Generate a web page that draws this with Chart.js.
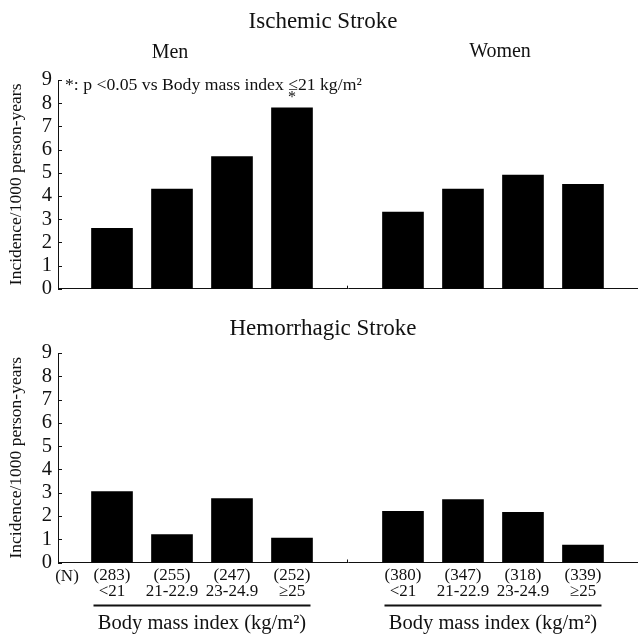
<!DOCTYPE html>
<html>
<head>
<meta charset="utf-8">
<script src="https://cdn.jsdelivr.net/npm/chart.js@4.4.0/dist/chart.umd.min.js"></script>
<style>
  body { margin: 0; background: #fff; }
  #wrap { position: relative; width: 638px; height: 637px; }
  canvas { position: absolute; left: 0; }
</style>
</head>
<body>
<div id="wrap">
  <canvas id="topChart" width="638" height="307" style="top:0"></canvas>
  <canvas id="bottomChart" width="638" height="332" style="top:305px"></canvas>
</div>
<script>
// categories
const bmiLabels = ['<21', '21-22.9', '23-24.9', '\u226525'];
const menN = [283, 255, 247, 252];
const womenN = [380, 347, 318, 339];
const yTicks = [0, 1, 2, 3, 4, 5, 6, 7, 8, 9];

// incidence / 1000 person-years
const ischemicMen = [2.6, 4.3, 5.7, 7.8];
const ischemicWomen = [3.3, 4.3, 4.9, 4.5];
const hemorrhagicMen = [3.05, 1.2, 2.75, 1.05];
const hemorrhagicWomen = [2.2, 2.7, 2.15, 0.75];
const ischemicMenSig = [false, false, false, true];

const FONT = '"Liberation Serif", "Times New Roman", serif';
const WOMEN_SHIFT = 4.85; // gap between the two sex groups, in bar slots

const menX = bmiLabels.map((_, i) => i);
const womenX = bmiLabels.map((_, i) => i + WOMEN_SHIFT);
const allX = menX.concat(womenX);

function toPoints(men, women) {
    return men.map((v, i) => ({x: menX[i], y: v}))
        .concat(women.map((v, i) => ({x: womenX[i], y: v})));
}

function text(ctx, s, x, y, size, align) {
    ctx.save();
    ctx.font = size + 'px ' + FONT;
    ctx.fillStyle = '#111';
    ctx.textAlign = align || 'center';
    ctx.textBaseline = 'middle';
    ctx.fillText(s, x, y);
    ctx.restore();
}

// inward y ticks, the little divider mark and all the free text
const decorPlugin = {
    id: 'decor',
    afterDraw(chart) {
        const ctx = chart.ctx;
        const xs = chart.scales.x, ys = chart.scales.y;
        const left = chart.chartArea.left, base = ys.getPixelForValue(0);
        ctx.save();
        ctx.strokeStyle = '#111';
        ctx.lineWidth = 1;
        ctx.beginPath();
        yTicks.forEach(t => {
            const p = Math.round(ys.getPixelForValue(t)) + 0.5;
            ctx.moveTo(left, p);
            ctx.lineTo(left + 4, p);
        });
        const mid = Math.round(xs.getPixelForValue((menX[3] + womenX[0]) / 2)) + 0.5;
        ctx.moveTo(mid, base);
        ctx.lineTo(mid, base - 3);
        ctx.stroke();
        ctx.restore();

        const o = chart.options.plugins.decor;
        text(ctx, o.title, 323, o.titleY, 23);

        if (o.top) {
            text(ctx, 'Men', 170, 53, 20);
            text(ctx, 'Women', 500, 52, 20);
            text(ctx, '*: p <0.05 vs Body mass index \u226421 kg/m\u00b2', 65, 85, 17.7, 'left');
            ischemicMenSig.forEach((s, i) => {
                if (!s) return;
                text(ctx, '*', xs.getPixelForValue(menX[i]), ys.getPixelForValue(ischemicMen[i]) - 10, 16);
            });
        } else {
            text(ctx, '(N)', 67, 271.5, 17);
            [menX, womenX].forEach(g => {
                const a = xs.getPixelForValue(g[0]) - 18.5;
                const b = xs.getPixelForValue(g[g.length - 1]) + 18.5;
                ctx.save();
                ctx.fillStyle = '#111';
                ctx.fillRect(a, 299.5, b - a, 2);
                ctx.restore();
                text(ctx, 'Body mass index (kg/m\u00b2)', (a + b) / 2, 318.5, 20.5);
            });
        }
    }
};

function makeChart(id, men, women, isTop) {
    const ctx = document.getElementById(id).getContext('2d');
    return new Chart(ctx, {
        type: 'bar',
        data: {
            datasets: [{
                data: toPoints(men, women),
                backgroundColor: '#000',
                borderColor: '#000',
                barThickness: 41
            }]
        },
        options: {
            responsive: false,
            animation: false,
            layout: {padding: isTop ? {top: 80, bottom: 0, left: 0, right: 0} : {top: 48, bottom: 0, left: 0, right: 0}},
            plugins: {
                legend: {display: false},
                tooltip: {enabled: false},
                decor: {title: isTop ? 'Ischemic Stroke' : 'Hemorrhagic Stroke', titleY: isTop ? 22 : 24, top: isTop}
            },
            scales: {
                x: {
                    type: 'linear',
                    offset: false,
                    min: -0.9,
                    max: 8.767,
                    grid: {display: false, drawTicks: false},
                    border: {display: true, color: '#111', width: 1},
                    afterBuildTicks: s => { s.ticks = allX.map(v => ({value: v})); },
                    afterFit: s => { s.height = isTop ? 13 : 74.5; },
                    ticks: {
                        display: !isTop,
                        autoSkip: false,
                        maxRotation: 0,
                        padding: 5,
                        color: '#111',
                        font: {family: FONT, size: 17, lineHeight: 0.95},
                        callback: (v, i) => {
                            const n = i < 4 ? menN[i] : womenN[i - 4];
                            return ['(' + n + ')', bmiLabels[i % 4]];
                        }
                    }
                },
                y: {
                    min: 0,
                    max: 9,
                    grid: {display: false, drawTicks: false},
                    border: {display: true, color: '#111', width: 1},
                    afterFit: s => { s.width = 58; },
                    ticks: {
                        stepSize: 1,
                        autoSkip: false,
                        padding: 6,
                        color: '#111',
                        font: {family: FONT, size: 20.5}
                    },
                    title: {
                        display: true,
                        text: 'Incidence/1000 person-years',
                        color: '#111',
                        font: {family: FONT, size: 17.5},
                        padding: {top: 6, bottom: 0}
                    }
                }
            }
        },
        plugins: [decorPlugin]
    });
}

makeChart('topChart', ischemicMen, ischemicWomen, true);
makeChart('bottomChart', hemorrhagicMen, hemorrhagicWomen, false);
</script>
</body>
</html>
